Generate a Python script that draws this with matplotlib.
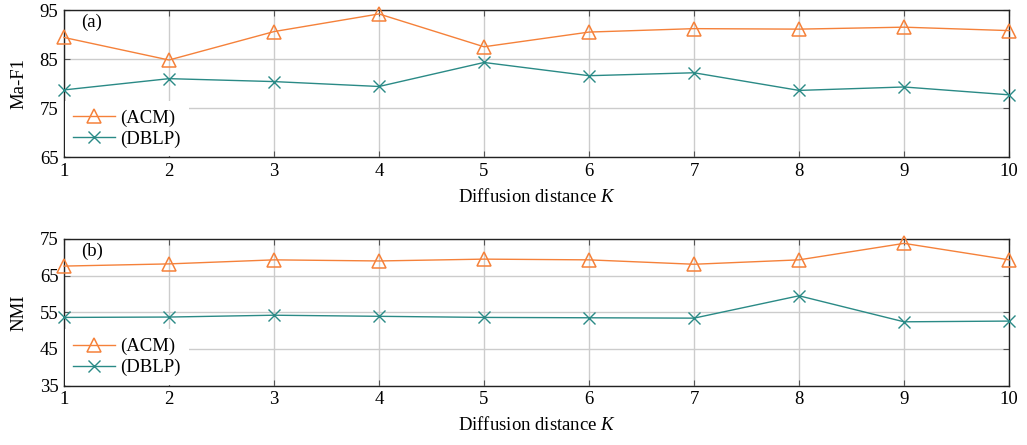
import matplotlib
matplotlib.use("Agg")
import matplotlib.pyplot as plt

plt.rcParams['font.family'] = ['Liberation Serif', 'DejaVu Serif']
plt.rcParams['mathtext.fontset'] = 'custom'
plt.rcParams['mathtext.it'] = 'Liberation Serif:italic'
plt.rcParams['mathtext.rm'] = 'Liberation Serif'

K = [1, 2, 3, 4, 5, 6, 7, 8, 9, 10]
maf1_acm = [89.4, 84.8, 90.6, 94.2, 87.5, 90.5, 91.2, 91.1, 91.5, 90.8]
maf1_dblp = [78.7, 81.0, 80.4, 79.4, 84.3, 81.6, 82.2, 78.6, 79.3, 77.7]
nmi_acm = [67.6, 68.2, 69.3, 69.0, 69.5, 69.3, 68.1, 69.3, 73.8, 69.3]
nmi_dblp = [53.6, 53.7, 54.2, 53.9, 53.6, 53.5, 53.4, 59.5, 52.4, 52.6]
top_yticks = [65, 75, 85, 95]
bot_yticks = [35, 45, 55, 65, 75]

ORANGE = '#F5813A'
TEAL = '#2A8A86'
FS = 13.5

fig = plt.figure(figsize=(10.27, 4.45), dpi=100)
ax1 = fig.add_axes([0.0623, 0.647, 0.9202, 0.3305])
ax2 = fig.add_axes([0.0623, 0.1335, 0.9202, 0.3295])

def style(ax, acm, dblp, yticks, ylabel, tag):
    ax.plot(K, acm, color=ORANGE, lw=1.0, marker='^', ms=9.5, mfc='none',
            mec=ORANGE, mew=1.1, label='(ACM)', clip_on=False, zorder=3)
    ax.plot(K, dblp, color=TEAL, lw=1.0, marker='x', ms=8.5, mec=TEAL,
            mew=1.0, label='(DBLP)', clip_on=False, zorder=3)
    ax.set_xlim(1, 10)
    ax.set_ylim(yticks[0], yticks[-1])
    ax.set_xticks(K)
    ax.set_yticks(yticks)
    ax.tick_params(direction='in', length=4, labelsize=FS, color='#555555',
                   right=True, top=True, pad=4)
    ax.grid(True, color='#cccccc', lw=1.0)
    ax.set_axisbelow(True)
    for s in ax.spines.values():
        s.set_color('#222222')
        s.set_linewidth(1.0)
    ax.set_ylabel(ylabel, fontsize=FS, labelpad=9)
    ax.set_xlabel(r'Diffusion distance $K$', fontsize=FS, labelpad=6)
    ax.text(0.018, 0.975, tag, transform=ax.transAxes, fontsize=FS,
            va='top', ha='left')
    leg = ax.legend(loc='lower left', fontsize=FS, frameon=True,
                    fancybox=False, edgecolor='white', facecolor='white',
                    framealpha=1.0, borderpad=0.45, handlelength=2.2,
                    handletextpad=0.3, labelspacing=0.2,
                    borderaxespad=0.05)
    leg.get_frame().set_linewidth(0)

style(ax1, maf1_acm, maf1_dblp, top_yticks, 'Ma-F1', '(a)')
style(ax2, nmi_acm, nmi_dblp, bot_yticks, 'NMI', '(b)')

fig.savefig('out.png', dpi=100)
